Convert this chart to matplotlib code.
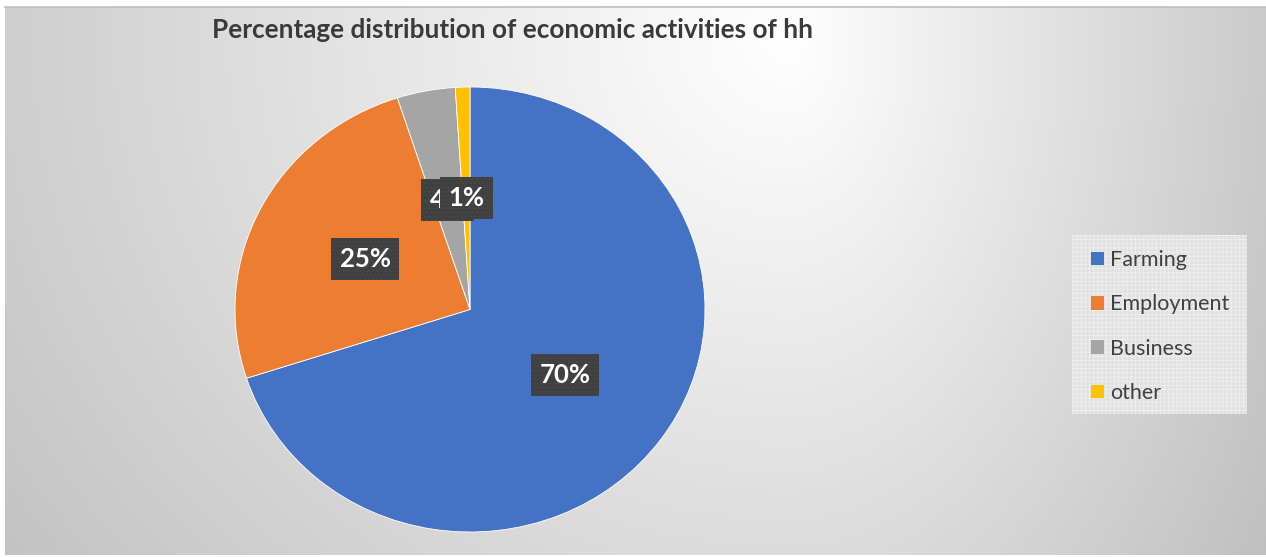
import numpy as np
import matplotlib.pyplot as plt
from matplotlib.patches import Rectangle, Patch

categories = ["Farming", "Employment", "Business", "other"]
shares = [70, 25, 4, 1]
colors = ["#4472C4", "#ED7D31", "#A5A5A5", "#FFC000"]
chart_title = "Percentage distribution of economic activities of hh"

W, H = 1266, 557
plt.rcParams["font.family"] = ["Lato", "DejaVu Sans"]
plt.rcParams["hatch.linewidth"] = 0.6

fig = plt.figure(figsize=(W / 100, H / 100), dpi=100)
fig.patch.set_facecolor("white")

# soft radial backdrop, brightest near the upper middle-right
x0, y_top, y_bot = 5, 7, 555
bg = fig.add_axes([x0 / W, (H - y_bot) / H, (W - x0) / W, (y_bot - y_top) / H])
xs = np.arange(x0, W) + 0.5
ys = np.arange(y_top, y_bot) + 0.5
X, Y = np.meshgrid(xs, ys)
cx, cy = 790.0, 40.0
sx = np.where(X < cx, 1000.0, 560.0)
r = np.sqrt(((X - cx) / sx) ** 2 + ((Y - cy) / 900.0) ** 2)
g = np.clip(255 - 62 * r, 185, 255) / 255.0
bg.imshow(np.dstack([g, g, g]), aspect="auto", interpolation="bilinear")
bg.set_axis_off()
fig.add_artist(plt.Line2D([x0 / W, 1], [1 - 6.5 / H, 1 - 6.5 / H],
                          transform=fig.transFigure, color="#bdbdbd", lw=1.2))

# pie, slightly wider than tall
ax = fig.add_axes([235 / W, 25 / H, 470 / W, 445 / H])
wedges, texts, autotexts = ax.pie(
    shares, colors=colors, startangle=90, counterclock=False,
    autopct=lambda p: f"{p:.0f}%", pctdistance=0.5,
    wedgeprops=dict(edgecolor="white", linewidth=0.6),
    textprops=dict(color="white", fontsize=18.5, fontweight="bold"),
)
ax.set_aspect("auto")
ax.set_xlim(-1, 1)
ax.set_ylim(-1, 1)
ax.axis("off")

# dark label boxes behind the percentages
fig.canvas.draw()
renderer = fig.canvas.get_renderer()
padx, box_h = 8.5, 42
for i, t in enumerate(autotexts):
    bb = t.get_window_extent(renderer)
    cxp = (bb.x0 + bb.x1) / 2
    cyp = (bb.y0 + bb.y1) / 2
    w = bb.width + 2 * padx
    rect = Rectangle(((cxp - w / 2) / W, (cyp - box_h / 2) / H), w / W, box_h / H,
                     transform=fig.transFigure, facecolor="#404040",
                     edgecolor="#4b4b4b", linewidth=0, hatch="....",
                     zorder=3 + 2 * i)
    ax.add_artist(rect)
    t.set_zorder(4 + 2 * i)

# legend panel with a fine light grid
panel = Rectangle((1072 / W, 1 - 414 / H), 175 / W, 179 / H,
                  transform=fig.transFigure, facecolor="#e1e1e1",
                  edgecolor="#efefef", linewidth=0, hatch="++++", zorder=1)
fig.add_artist(panel)

handles = [Patch(facecolor=c, edgecolor="none") for c in colors]
leg = fig.legend(handles, categories, loc="upper left",
                 bbox_to_anchor=(1091 / W, 1 - 250 / H),
                 frameon=False, fontsize=15.5,
                 handlelength=0.6, handleheight=0.6, handletextpad=0.28,
                 labelspacing=1.13, borderpad=0, borderaxespad=0)
leg.set_zorder(5)
for txt in leg.get_texts():
    txt.set_color("#404040")

fig.text(512 / W, 1 - 30 / H, chart_title, ha="center", va="center",
         fontsize=18.8, fontweight="bold", color="#3a3a3a")

fig.savefig("out.png", dpi=100)
